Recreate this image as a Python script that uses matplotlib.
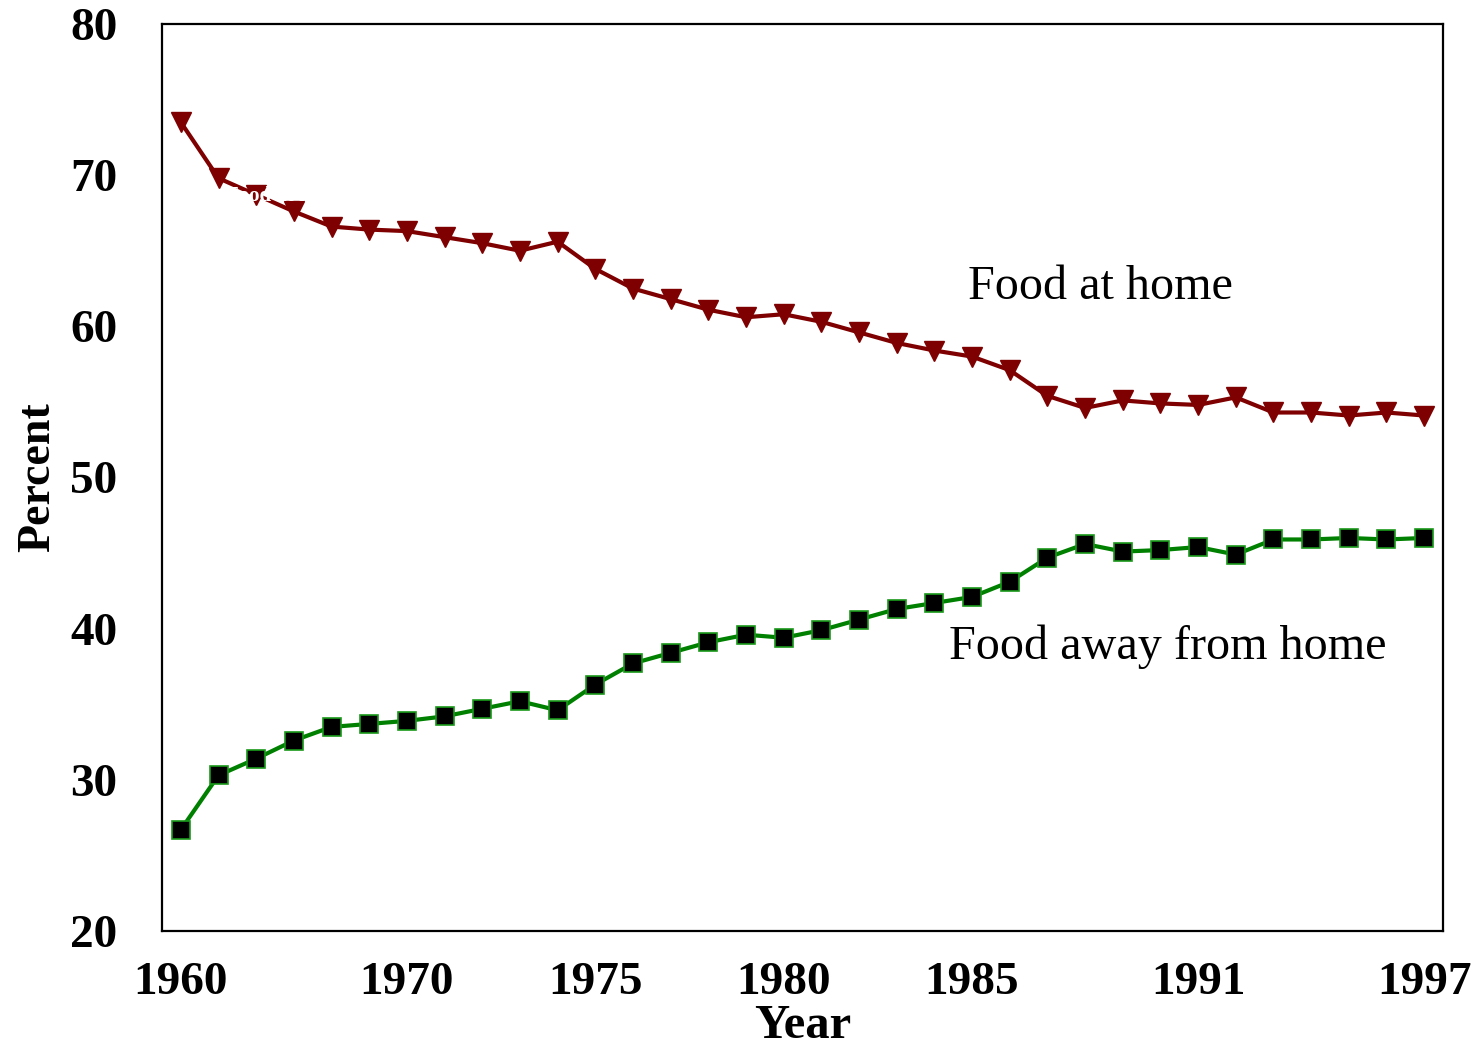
import matplotlib
matplotlib.use("Agg")
import matplotlib.pyplot as plt
from matplotlib.ticker import FixedLocator, MultipleLocator

# Years shown on the category axis (1960, then 1965 through 1997)
years = [1960] + list(range(1965, 1998))
tick_years = [1960, 1970, 1975, 1980, 1985, 1991, 1997]

# Share of food expenditures, percent
food_at_home = [73.5, 69.8, 68.7, 67.6, 66.6, 66.4, 66.3, 65.9, 65.5, 65.0,
                65.6, 63.8, 62.5, 61.8, 61.1, 60.6, 60.8, 60.3, 59.6, 58.9,
                58.4, 58.0, 57.1, 55.4, 54.6, 55.1, 54.9, 54.8, 55.3, 54.3,
                54.3, 54.1, 54.3, 54.1]
food_away = [26.7, 30.3, 31.4, 32.6, 33.5, 33.7, 33.9, 34.2, 34.7, 35.2,
             34.6, 36.3, 37.7, 38.4, 39.1, 39.6, 39.4, 39.9, 40.6, 41.3,
             41.7, 42.1, 43.1, 44.7, 45.6, 45.1, 45.2, 45.4, 44.9, 45.9,
             45.9, 46.0, 45.9, 46.0]

plt.rcParams["font.family"] = ["Liberation Serif", "DejaVu Serif"]

fig = plt.figure(figsize=(14.75, 10.45), dpi=100)
ax = fig.add_axes([162 / 1475, 1 - 931 / 1045, (1443 - 162) / 1475, (931 - 24) / 1045])

x = list(range(len(years)))
ax.plot(x, food_at_home, color="#7f0000", lw=3.0, marker="v", ms=14,
        mfc="#7f0000", mec="#7f0000", zorder=3)
ax.plot(x, food_away, color="#008000", lw=3.0, marker="s", ms=12.5,
        mfc="black", mec="#1a9a1a", mew=1.2, zorder=3)

ax.set_xlim(-0.5, len(years) - 0.5)
ax.set_ylim(20, 80)

tick_pos = [years.index(y) for y in tick_years]
ax.xaxis.set_major_locator(FixedLocator(tick_pos))
ax.set_xticklabels([str(y) for y in tick_years])
ax.xaxis.set_minor_locator(FixedLocator([i + 0.5 for i in range(-1, len(years))]))
ax.yaxis.set_major_locator(MultipleLocator(10))

ax.tick_params(axis="x", which="major", length=0, pad=22, labelsize=34)
ax.tick_params(axis="x", which="minor", direction="in", length=3, width=1.2,
               color="white")
ax.tick_params(axis="y", which="major", direction="in", length=3, width=1.2,
               color="white", pad=32, labelsize=34)
for lab in ax.get_xticklabels() + ax.get_yticklabels():
    lab.set_fontweight("bold")

for s in ax.spines.values():
    s.set_linewidth(1.6)
    s.set_color("black")

ax.set_xlabel("Year", fontsize=35, fontweight="bold", labelpad=0)
ax.set_ylabel("Percent", fontsize=33, fontweight="bold", labelpad=8)

ax.text(20.88, 61.8, "Food at home", fontsize=34.7, ha="left", va="baseline")
ax.text(20.38, 38.0, "Food away from home", fontsize=34.7, ha="left", va="baseline")
ax.text(1.2, 68.3, "Food at home", fontsize=15, color="white",
        fontweight="bold", ha="left", va="baseline", zorder=4)

fig.savefig("out.png", dpi=100, facecolor="white")
